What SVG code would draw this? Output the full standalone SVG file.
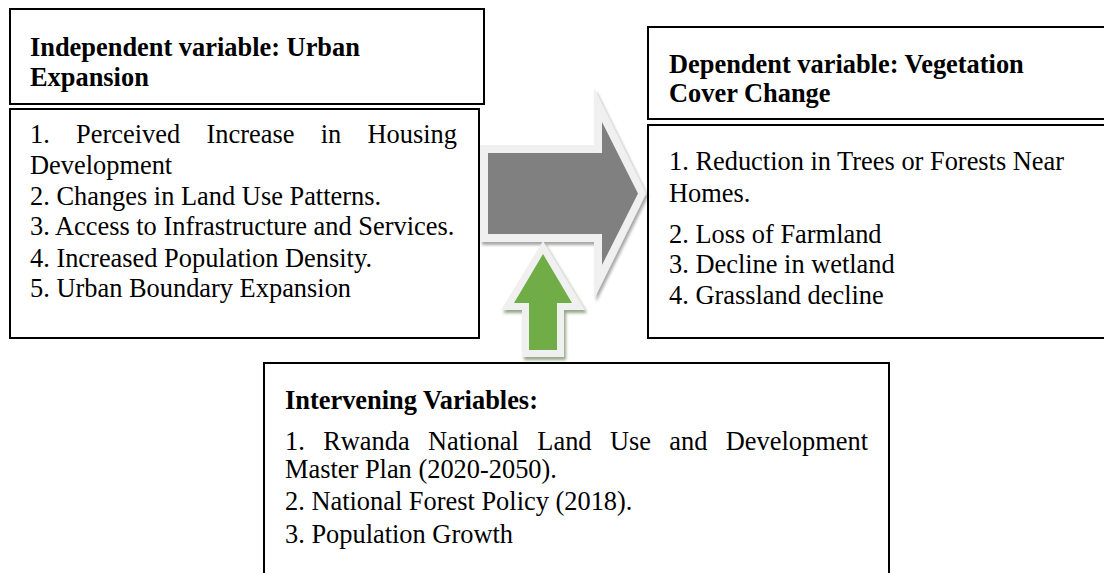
<svg xmlns="http://www.w3.org/2000/svg" width="1104" height="573" viewBox="0 0 1104 573">
<style>
.box{fill:#fff;stroke:#000;stroke-width:2}
.t{font-family:'Liberation Serif',Tinos,'Times New Roman','DejaVu Serif',serif;font-size:26.4px;fill:#000}
.b{font-weight:bold}
.halo{fill:#f0f0f0}
</style>
<defs>
<filter id="shG" x="-20%" y="-20%" width="140%" height="140%">
<feDropShadow dx="2" dy="3" stdDeviation="1.5" flood-color="#000" flood-opacity="0.35"/>
</filter>
<filter id="shN" x="-20%" y="-20%" width="140%" height="140%">
<feDropShadow dx="2" dy="3" stdDeviation="1.5" flood-color="#3d5f27" flood-opacity="0.55"/>
</filter>
</defs>
<rect width="1104" height="573" fill="#fff"/>

<g id="independent-header">
<rect class="box" x="10" y="9" width="474" height="95"/>
<text class="t b" x="30" y="56" font-family="Liberation Serif, serif">Independent variable: Urban</text>
<text class="t b" x="30" y="86" font-family="Liberation Serif, serif">Expansion</text>
</g>

<g id="independent-list">
<rect class="box" x="10" y="109" width="469" height="229"/>
<text class="t" y="143"><tspan x="30">1.</tspan><tspan x="76.1">Perceived</tspan><tspan x="206.5">Increase</tspan><tspan x="320.7">in</tspan><tspan x="367.5">Housing</tspan></text>
<text class="t" x="30" y="174">Development</text>
<text class="t" x="30" y="205">2. Changes in Land Use Patterns.</text>
<text class="t" x="30" y="235">3. Access to Infrastructure and Services.</text>
<text class="t" x="30" y="267">4. Increased Population Density.</text>
<text class="t" x="30" y="297">5. Urban Boundary Expansion</text>
</g>

<g id="dependent-header">
<rect class="box" x="648" y="27" width="470" height="92"/>
<text class="t b" x="669" y="73">Dependent variable: Vegetation</text>
<text class="t b" x="669" y="102">Cover Change</text>
</g>

<g id="dependent-list">
<rect class="box" x="648" y="125" width="470" height="213"/>
<text class="t" x="669" y="170">1. Reduction in Trees or Forests Near</text>
<text class="t" x="669" y="202">Homes.</text>
<text class="t" x="669" y="243">2. Loss of Farmland</text>
<text class="t" x="669" y="273">3. Decline in wetland</text>
<text class="t" x="669" y="304">4. Grassland decline</text>
</g>

<g id="intervening">
<rect class="box" x="264" y="363" width="625" height="230"/>
<text class="t b" x="285" y="409">Intervening Variables:</text>
<text class="t" y="450"><tspan x="285">1.</tspan><tspan x="323.2">Rwanda</tspan><tspan x="428">National</tspan><tspan x="537.3">Land</tspan><tspan x="609.9">Use</tspan><tspan x="669.3">and</tspan><tspan x="725.8">Development</tspan></text>
<text class="t" x="285" y="478">Master Plan (2020-2050).</text>
<text class="t" x="285" y="510">2. National Forest Policy (2018).</text>
<text class="t" x="285" y="543">3. Population Growth</text>
</g>

<g id="connectors">
<g id="main-arrow">
<polygon class="halo" filter="url(#shG)" points="480,145 594,145 594,88 646,193.5 594,299 594,242 480,242"/>
<polygon fill="#808080" points="488,153 602,153 602,122 638,193.5 602,265 602,234 488,234"/>
</g>
<g id="intervening-arrow">
<polygon class="halo" filter="url(#shN)" points="543,241 585,310 564,310 564,357 522,357 522,310 501,310"/>
<polygon fill="#70ad47" points="543,254 572,303 557,303 557,350 529,350 529,303 514,303"/>
</g>
</g>
</svg>
